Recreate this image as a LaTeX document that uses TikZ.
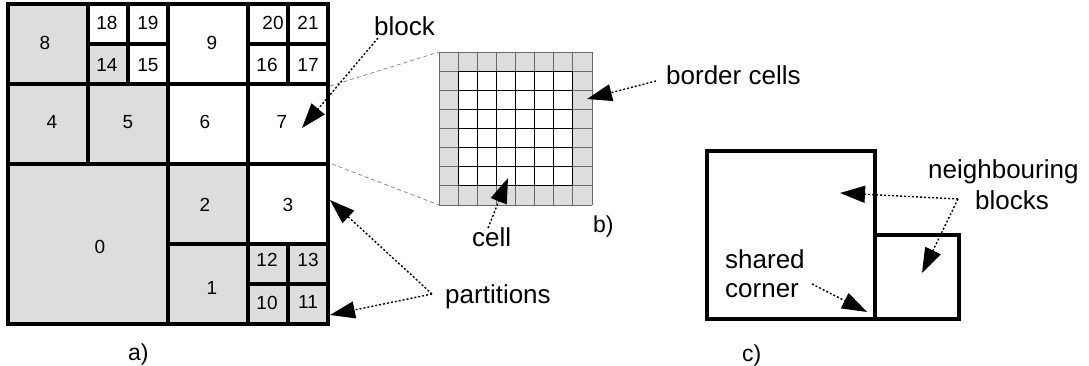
\documentclass[tikz,border=0pt]{standalone}
\usepackage{fontspec}
\setmainfont{Liberation Sans}
\usetikzlibrary{arrows.meta}
\definecolor{cellgray}{RGB}{221,221,221}
\definecolor{gridgray}{RGB}{105,105,105}
\begin{document}
\begin{tikzpicture}[x=1pt,y=-1pt,
  part/.style={draw=black, line width=3.4pt},
  num/.style={font=\fontsize{19}{21}\selectfont, inner sep=0pt},
  lbl/.style={font=\fontsize{26}{30}\selectfont, inner sep=0pt, anchor=base west},
  tag/.style={font=\fontsize{23}{26}\selectfont, inner sep=0pt, anchor=base west},
  pointer/.style={line width=1.4pt, dash pattern=on 2pt off 2pt,
    -{Triangle[length=25pt,width=17pt]}},
  zoomline/.style={gray, line width=0.7pt, dash pattern=on 4pt off 3pt}]
\useasboundingbox (0,0) rectangle (1089,366);

% ---- a) quadtree partitions ----
\foreach \xa/\ya/\xb/\yb/\f in {
  8/164/168/324/cellgray, 168/244/248/324/cellgray, 168/164/248/244/cellgray,
  248/164/328/244/white,
  248/284/288/324/cellgray, 288/284/328/324/cellgray,
  248/244/288/284/cellgray, 288/244/328/284/cellgray,
  8/84/88/164/cellgray, 88/84/168/164/cellgray,
  168/84/248/164/white, 248/84/328/164/white,
  8/4/88/84/cellgray, 88/4/128/44/white, 128/4/168/44/white,
  88/44/128/84/cellgray, 128/44/168/84/white,
  168/4/248/84/white,
  248/4/288/44/white, 288/4/328/44/white,
  248/44/288/84/white, 288/44/328/84/white}
  \filldraw[part, fill=\f] (\xa,\ya) rectangle (\xb,\yb);

\foreach \n/\x/\y in {0/100/247, 1/212/288, 2/205/205, 3/288/205,
  4/52/122, 5/128/122, 6/205/122, 7/282/122, 8/45/43, 9/212/43,
  10/267/303, 11/308/302, 12/267/260, 13/308/260,
  14/107/65, 15/148/65, 16/267/65, 17/308/65,
  18/107/23, 19/148/23, 20/273/23, 21/308/23}
  \node[num] (p\n) at (\x,\y) {\n};

\node[tag] (taga) at (128,360) {a)};

% ---- b) cells of one block: 8x8, border ring shaded ----
\begin{scope}[shift={(439,52)}, x=19.125pt, y=-19.125pt]
  \fill[cellgray] (0,0) rectangle (8,8);
  \fill[white] (1,1) rectangle (7,7);
  \foreach \i in {0,...,8} {
    \draw[gridgray, line width=0.8pt] (\i,0) -- (\i,8);
    \draw[gridgray, line width=0.8pt] (0,\i) -- (8,\i);
  }
  \foreach \i in {1,...,7} {
    \draw[black, line width=0.8pt] (\i,1) -- (\i,7);
    \draw[black, line width=0.8pt] (1,\i) -- (7,\i);
  }
  \coordinate (gtl) at (0,0);
  \coordinate (gbl) at (0,8);
\end{scope}

\coordinate (btr) at (330,86);
\coordinate (bbr) at (332,164);
\draw[zoomline] (btr) -- (gtl);
\draw[zoomline] (bbr) -- (gbl);

\node[tag] (tagb) at (593,233) {b)};

% ---- c) shared corner ----
\draw[part] (707,151) rectangle (875,319);
\draw[part] (875,235) rectangle (959,319);
\node[tag] (tagc) at (742,361) {c)};

% ---- labels ----
\node[lbl] (block) at (374,36) {block};
\node[lbl] (border) at (666,85) {border cells};
\node[lbl] (cell) at (472,246) {cell};
\node[lbl] (parts) at (445,303) {partitions};
\node[lbl] (neigh) at (928,179) {neighbouring};
\node[lbl] (neighb) at (975,209) {blocks};
\node[lbl] (shared) at (725,268) {shared};
\node[lbl] (corner) at (725,297) {corner};

% ---- pointers ----
\coordinate (blockfrom) at (378,38);
\coordinate (blocktip) at (302,128);
\coordinate (borderfrom) at (656,81);
\coordinate (bordertip) at (587,99);
\coordinate (cellfrom) at (488,228);
\coordinate (celltip) at (508,178);
\coordinate (partsfrom) at (432,294);
\coordinate (partstipa) at (330,200);
\coordinate (partstipb) at (330,315);
\coordinate (neighfrom) at (958,199);
\coordinate (neightipa) at (840,193);
\coordinate (neightipb) at (922,273);
\coordinate (cornerfrom) at (812,284);
\coordinate (cornertip) at (867,312);

\draw[pointer] (blockfrom) -- (blocktip);
\draw[pointer] (borderfrom) -- (bordertip);
\draw[pointer] (cellfrom) -- (celltip);
\draw[pointer] (partsfrom) -- (partstipa);
\draw[pointer] (partsfrom) -- (partstipb);
\draw[pointer] (neighfrom) -- (neightipa);
\draw[pointer] (neighfrom) -- (neightipb);
\draw[pointer] (cornerfrom) -- (cornertip);
\end{tikzpicture}
\end{document}
